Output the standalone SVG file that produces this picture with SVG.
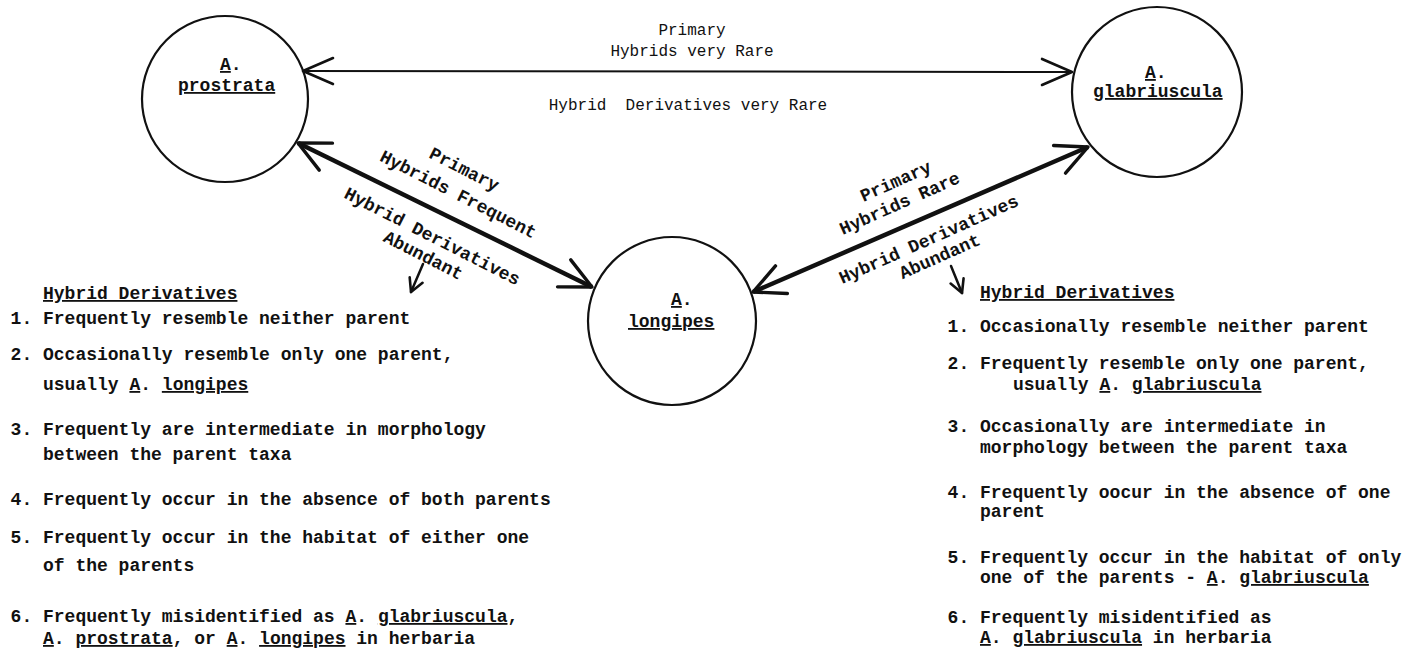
<svg xmlns="http://www.w3.org/2000/svg" width="1413" height="655" viewBox="0 0 1413 655">
<style>
  .bg { fill: #ffffff; }
  .node { fill: none; stroke: #111; stroke-width: 2.2; }
  .t { font-family: "Liberation Mono", "Courier New", monospace; font-weight: bold; font-size: 18px; fill: #111; }
  .top { font-family: "Liberation Mono", "Courier New", monospace; font-size: 16px; fill: #111; }
  .u { text-decoration: underline; }
  .thin { fill: none; stroke: #111; stroke-width: 2; }
  .thick { fill: none; stroke: #111; stroke-width: 4.5; }
  .small { fill: none; stroke: #111; stroke-width: 2.5; stroke-linecap: round; }
  .mk { fill: none; stroke: #111; stroke-linecap: round; stroke-linejoin: round; }
</style>
<defs>
  <marker id="headThin" viewBox="-36 -20 40 40" markerWidth="40" markerHeight="40" refX="0" refY="0" markerUnits="userSpaceOnUse" orient="auto-start-reverse">
    <path class="mk" d="M-30,-13 L0,0 L-30,13" stroke-width="2.6"/>
  </marker>
  <marker id="headThick" viewBox="-36 -20 40 40" markerWidth="40" markerHeight="40" refX="0" refY="0" markerUnits="userSpaceOnUse" orient="auto-start-reverse">
    <path class="mk" d="M-31,-15 L0,0 L-31,15" stroke-width="3.4"/>
  </marker>
  <marker id="headSmall" viewBox="-18 -12 22 24" markerWidth="22" markerHeight="24" refX="0" refY="0" markerUnits="userSpaceOnUse" orient="auto">
    <path class="mk" d="M-13,-7 L0,0 L-13,7" stroke-width="2.6"/>
  </marker>
</defs>
<rect class="bg" x="0" y="0" width="1413" height="655"/>

<g id="connectors">
  <path id="c-prostrata-glabriuscula" class="thin" d="M303,71 L1072,72" marker-start="url(#headThin)" marker-end="url(#headThin)"/>
  <path id="c-prostrata-longipes" class="thick" d="M298,143 L592,287" marker-start="url(#headThick)" marker-end="url(#headThick)"/>
  <path id="c-longipes-glabriuscula" class="thick" d="M753,292 L1088,147" marker-start="url(#headThick)" marker-end="url(#headThick)"/>
  <path id="c-left-small" class="small" d="M423,264 L411,292" marker-end="url(#headSmall)"/>
  <path id="c-right-small" class="small" d="M951,266 L962,293" marker-end="url(#headSmall)"/>
</g>

<g id="connector-labels">
  <text class="top" x="692" y="35" text-anchor="middle">Primary</text>
  <text class="top" x="692" y="56" text-anchor="middle">Hybrids very Rare</text>
  <text class="top" x="688" y="110" text-anchor="middle" xml:space="preserve">Hybrid  Derivatives very Rare</text>

  <text class="t" text-anchor="middle" transform="translate(464,170) rotate(27)" y="5">Primary</text>
  <text class="t" text-anchor="middle" transform="translate(458,195) rotate(27)" y="5">Hybrids Frequent</text>
  <text class="t" text-anchor="middle" transform="translate(432,237) rotate(27)" y="5">Hybrid Derivatives</text>
  <text class="t" text-anchor="middle" transform="translate(423,256) rotate(27)" y="5">Abundant</text>

  <text class="t" text-anchor="middle" transform="translate(896,182) rotate(-24)" y="5">Primary</text>
  <text class="t" text-anchor="middle" transform="translate(900,204) rotate(-24)" y="5">Hybrids Rare</text>
  <text class="t" text-anchor="middle" transform="translate(929,240) rotate(-24)" y="5">Hybrid Derivatives</text>
  <text class="t" text-anchor="middle" transform="translate(940,257) rotate(-24)" y="5">Abundant</text>
</g>

<g id="node-prostrata">
  <circle class="node" cx="225" cy="99" r="83"/>
  <text class="t" x="220" y="70"><tspan class="u">A</tspan>.</text>
  <text class="t" x="178" y="91"><tspan class="u">prostrata</tspan></text>
</g>

<g id="node-glabriuscula">
  <circle class="node" cx="1157" cy="92" r="85"/>
  <text class="t" x="1145" y="78"><tspan class="u">A</tspan>.</text>
  <text class="t" x="1093" y="97"><tspan class="u">glabriuscula</tspan></text>
</g>

<g id="node-longipes">
  <circle class="node" cx="672" cy="321" r="84"/>
  <text class="t" x="671" y="305"><tspan class="u">A</tspan>.</text>
  <text class="t" x="628" y="327"><tspan class="u">longipes</tspan></text>
</g>

<g id="list-left">
  <text class="t" x="43" y="299"><tspan class="u">Hybrid Derivatives</tspan></text>
  <text class="t" x="10.6" y="324">1. Frequently resemble neither parent</text>
  <text class="t" x="10.6" y="360">2. Occasionally resemble only one parent,</text>
  <text class="t" x="43" y="390">usually <tspan class="u">A</tspan>. <tspan class="u">longipes</tspan></text>
  <text class="t" x="10.6" y="435">3. Frequently are intermediate in morphology</text>
  <text class="t" x="43" y="460">between the parent taxa</text>
  <text class="t" x="10.6" y="505">4. Frequently occur in the absence of both parents</text>
  <text class="t" x="10.6" y="543">5. Frequently occur in the habitat of either one</text>
  <text class="t" x="43" y="571">of the parents</text>
  <text class="t" x="10.6" y="622">6. Frequently misidentified as <tspan class="u">A</tspan>. <tspan class="u">glabriuscula</tspan>,</text>
  <text class="t" x="43" y="644"><tspan class="u">A</tspan>. <tspan class="u">prostrata</tspan>, or <tspan class="u">A</tspan>. <tspan class="u">longipes</tspan> in herbaria</text>
</g>

<g id="list-right">
  <text class="t" x="980" y="298"><tspan class="u">Hybrid Derivatives</tspan></text>
  <text class="t" x="947.6" y="332">1. Occasionally resemble neither parent</text>
  <text class="t" x="947.6" y="369">2. Frequently resemble only one parent,</text>
  <text class="t" x="1013" y="390">usually <tspan class="u">A</tspan>. <tspan class="u">glabriuscula</tspan></text>
  <text class="t" x="947.6" y="432">3. Occasionally are intermediate in</text>
  <text class="t" x="980" y="453">morphology between the parent taxa</text>
  <text class="t" x="947.6" y="498">4. Frequently oocur in the absence of one</text>
  <text class="t" x="980" y="517">parent</text>
  <text class="t" x="947.6" y="563">5. Frequently occur in the habitat of only</text>
  <text class="t" x="980" y="583">one of the parents - <tspan class="u">A</tspan>. <tspan class="u">glabriuscula</tspan></text>
  <text class="t" x="947.6" y="623">6. Frequently misidentified as</text>
  <text class="t" x="980" y="643"><tspan class="u">A</tspan>. <tspan class="u">glabriuscula</tspan> in herbaria</text>
</g>
</svg>
